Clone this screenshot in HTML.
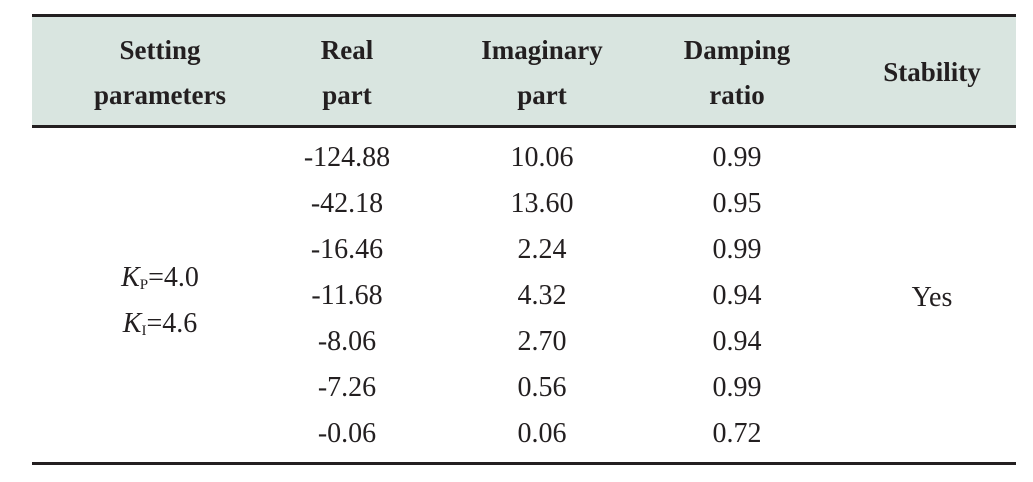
<!DOCTYPE html>
<html><head><meta charset="utf-8">
<style>
body{margin:0;width:1033px;height:482px;background:#fff;position:relative;overflow:hidden;font-family:"Liberation Serif",serif;color:#231f20}
.rule{position:absolute;left:32px;width:984px;height:3px;background:#231f20}
.hdr{position:absolute;left:32px;top:17px;width:984px;height:109px;background:#d9e5e0}
.h{position:absolute;font-weight:bold;font-size:27px;line-height:45px;text-align:center;width:200px}
.c{position:absolute;font-size:28px;line-height:30px;text-align:center;width:200px}
sub{font-size:15px;vertical-align:-3px;line-height:0}
</style></head><body>
<div class="hdr"></div>
<div class="rule" style="top:14px"></div>
<div class="rule" style="top:125px"></div>
<div class="rule" style="top:462px"></div>
<div class="h" style="left:60px;top:28px">Setting<br>parameters</div>
<div class="h" style="left:247px;top:28px">Real<br>part</div>
<div class="h" style="left:442px;top:28px">Imaginary<br>part</div>
<div class="h" style="left:637px;top:28px">Damping<br>ratio</div>
<div class="h" style="left:832px;top:50px">Stability</div>
<div class="c" style="left:60px;top:255px;line-height:46px"><i>K</i><sub>P</sub>=4.0<br><i>K</i><sub>I</sub>=4.6</div>
<div class="c" style="left:832px;top:283px">Yes</div>
<div id="rows"></div>
<script>
const realPart=["-124.88","-42.18","-16.46","-11.68","-8.06","-7.26","-0.06"];
const imagPart=["10.06","13.60","2.24","4.32","2.70","0.56","0.06"];
const damping=["0.99","0.95","0.99","0.94","0.94","0.99","0.72"];
const cols=[[realPart,247,'real-part'],[imagPart,442,'imaginary-part'],[damping,637,'damping-ratio']];
const rows=document.getElementById('rows');
cols.forEach(([arr,x,nm])=>{arr.forEach((v,i)=>{
 const d=document.createElement('div');
 d.className='c';d.style.left=x+'px';d.style.top=(143+i*46)+'px';d.textContent=v;
 
 
 rows.appendChild(d);});});
</script>
</body></html>
